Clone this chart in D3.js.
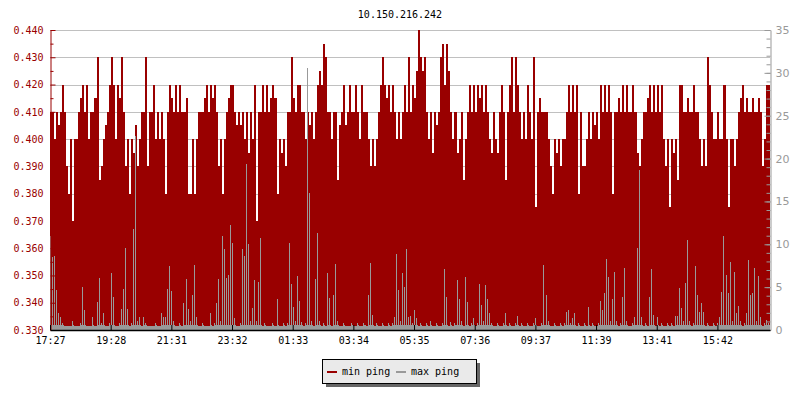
<!DOCTYPE html>
<html>
<head>
<meta charset="utf-8">
<script src="https://cdn.jsdelivr.net/npm/d3@7"></script>
<style>
body { margin: 0; background: #fff; }
</style>
</head>
<body>
<div id="root"></div>
<script>
var width = 800;
var height = 400;

var title = "10.150.216.242";

// x labels, one every 30 samples
var timeLabels = ["17:27","19:28","21:31","23:32","01:33","03:34","05:35","07:36","09:37","11:39","13:41","15:42"];
var labelEvery = 30;

var minTicks = [0.33,0.34,0.35,0.36,0.37,0.38,0.39,0.40,0.41,0.42,0.43,0.44];
var maxTicks = [0,5,10,15,20,25,30,35];

// min ping (ms), left axis
var minPing = [
0.41,0.41,0.4,0.41,0.405,0.41,0.42,0.41,0.39,0.38,
0.4,0.37,0.4,0.4,0.41,0.415,0.42,0.41,0.42,0.4,
0.41,0.41,0.415,0.43,0.385,0.39,0.4,0.405,0.41,0.42,
0.43,0.42,0.4,0.42,0.415,0.43,0.41,0.39,0.4,0.38,
0.4,0.395,0.405,0.39,0.4,0.41,0.41,0.43,0.39,0.41,
0.41,0.42,0.4,0.41,0.4,0.41,0.4,0.38,0.41,0.42,
0.415,0.41,0.42,0.41,0.42,0.41,0.41,0.415,0.38,0.38,
0.4,0.38,0.4,0.41,0.41,0.41,0.415,0.42,0.41,0.42,
0.415,0.42,0.41,0.39,0.4,0.38,0.4,0.41,0.415,0.42,
0.42,0.41,0.405,0.41,0.405,0.41,0.4,0.41,0.395,0.41,
0.4,0.42,0.37,0.41,0.41,0.42,0.41,0.42,0.41,0.415,
0.42,0.415,0.38,0.4,0.395,0.4,0.39,0.41,0.41,0.43,
0.415,0.41,0.42,0.42,0.41,0.41,0.4,0.41,0.405,0.41,
0.4,0.41,0.42,0.425,0.42,0.435,0.43,0.41,0.41,0.4,
0.41,0.41,0.385,0.405,0.41,0.42,0.405,0.41,0.42,0.41,
0.41,0.42,0.41,0.4,0.42,0.41,0.41,0.4,0.39,0.4,
0.39,0.4,0.41,0.42,0.43,0.42,0.415,0.42,0.41,0.42,
0.41,0.4,0.41,0.4,0.41,0.42,0.41,0.43,0.41,0.42,
0.415,0.425,0.44,0.43,0.425,0.43,0.41,0.4,0.41,0.395,
0.41,0.405,0.41,0.43,0.435,0.42,0.435,0.425,0.41,0.4,
0.41,0.395,0.4,0.41,0.385,0.4,0.41,0.42,0.41,0.42,
0.41,0.42,0.415,0.42,0.41,0.42,0.41,0.4,0.395,0.41,
0.4,0.395,0.41,0.42,0.41,0.385,0.41,0.42,0.43,0.41,
0.43,0.42,0.41,0.4,0.41,0.4,0.42,0.41,0.4,0.43,
0.375,0.41,0.415,0.41,0.41,0.41,0.4,0.39,0.38,0.4,
0.395,0.4,0.39,0.4,0.4,0.41,0.42,0.41,0.42,0.41,
0.42,0.38,0.41,0.39,0.39,0.4,0.41,0.4,0.41,0.405,
0.41,0.4,0.42,0.41,0.42,0.41,0.42,0.41,0.38,0.41,
0.41,0.415,0.41,0.42,0.41,0.42,0.41,0.41,0.42,0.41,
0.395,0.39,0.4,0.41,0.41,0.415,0.42,0.41,0.42,0.41,
0.42,0.41,0.42,0.4,0.39,0.4,0.375,0.4,0.395,0.4,
0.385,0.42,0.42,0.41,0.41,0.415,0.41,0.41,0.42,0.41,
0.41,0.4,0.39,0.4,0.39,0.43,0.42,0.41,0.4,0.4,
0.41,0.4,0.4,0.42,0.4,0.375,0.4,0.4,0.39,0.4,
0.41,0.415,0.42,0.41,0.415,0.41,0.41,0.415,0.41,0.41,
0.415,0.41,0.39,0.4,0.42,0.42
];

// max ping (ms), right axis
var maxPing = [
11,8.5,8.6,4.7,2,1.5,0.8,0.5,0.5,0.5,
0.5,1.1,0.5,0.5,0.5,0.8,5,2.3,0.5,0.5,
0.5,1.5,0.5,3.3,6.1,0.8,2,0.5,0.5,0.8,
6.6,3.8,0.5,0.5,0.8,2.5,4.8,9.6,2.5,0.5,
0.8,11.8,22.6,1,1.5,0.5,1.5,0.8,0.5,0.5,
0.5,0.5,0.8,0.5,0.5,2,1.5,1.5,4.8,7.5,
4.5,1,0.5,0.5,0.8,0.5,3.2,5.9,2.5,1,
4.1,7.6,1.5,0.5,0.5,0.8,0.5,0.5,0.5,2,
0.5,0.8,3.2,5.9,1,11,9.4,6.1,6.4,12.2,
10.2,1.4,0.5,0.5,0.8,9.4,8.6,19.4,10,1,
2.6,5.8,1,5.6,10.7,0.5,0.8,0.5,0.5,0.5,
0.8,0.5,3.6,0.5,0.5,0.8,0.5,0.8,10.2,5.4,
2.7,1,6.3,3.4,0.9,0.5,0.8,30.6,16,1,
0.5,5.9,11.3,1,0.5,0.8,0.5,6.6,3.7,0.5,
4.1,7.7,1,0.5,0.5,0.8,0.5,0.5,0.5,0.8,
0.5,0.5,0.8,0.5,0.5,0.8,0.5,4.1,7.8,1.7,
0.5,0.8,0.5,0.5,0.8,0.5,0.5,0.8,0.5,0.8,
1.5,8.9,4.7,1,6.6,5,9.4,1.5,1.6,0.8,
2.3,1.4,0.5,0.8,0.5,0.5,0.8,0.5,1,0.5,
0.5,0.8,0.5,0.5,0.8,7.1,3.9,0.5,0.9,0.5,
0.8,5.8,3.6,1,0.5,6.2,3.3,0.5,0.8,1.4,
0.5,0.8,5.4,2.9,1,5.3,3.6,2,0.8,0.5,
0.5,0.8,0.5,0.5,0.8,2,0.5,0.8,0.5,0.5,
0.8,1.6,0.5,0.8,0.5,0.5,0.8,0.5,0.5,0.8,
1.4,0.5,0.5,0.8,7.6,4.1,1,0.5,0.5,0.8,
0.5,0.5,0.8,0.5,0.8,2.1,2.3,0.8,1.4,2,
0.5,0.8,0.5,0.5,0.8,0.5,2.7,0.5,0.8,0.5,
0.5,0.8,3.4,2.3,4.3,8.3,6.2,1,3.6,6.8,
1,0.5,0.8,3.9,7.2,1,0.5,0.5,0.8,1.5,
9.6,18.7,1.5,0.5,0.8,0.5,3.9,7.1,1.7,0.5,
1.5,0.5,0.8,0.5,0.5,0.8,0.5,0.8,0.5,1.6,
1.6,4.9,2.6,1,5.5,10.5,1,0.5,0.8,7.5,
4.1,2.1,3.2,2.1,0.5,0.8,0.5,0.5,0.8,0.5,
0.8,1.5,4.4,11,6.4,4.3,7.9,1,6.8,2,
2.8,1,0.5,0.8,2,8.2,4.1,4.3,7.2,1,
6.3,1.5,0.5,0.8,1.2,0.8
];

var red = "#990000";
var grey = "#999999";
var mono = "'DejaVu Sans Mono', monospace";

var svg = d3.select("#root")
.append("svg")
.attr("width", width)
.attr("height", height)
.style("display", "block");

var n = minPing.length;

var x = d3.scaleLinear()
.domain([0, n])
.range([50, 770]);

var yMin = d3.scaleLinear()
.domain([0.33, 0.44])
.range([330, 30]);

var yMax = d3.scaleLinear()
.domain([0, 35])
.range([330, 30]);

//title
svg.append("text")
.attr("x", 400)
.attr("y", 18)
.attr("text-anchor", "middle")
.style("font-family", mono)
.style("font-size", "10px")
.text(title);

//grid lines at the left ticks
svg.append("g")
.selectAll("line")
.data(minTicks.slice(1))
.enter()
.append("line")
.attr("x1", 50)
.attr("x2", 770)
.attr("y1", function(d){ return Math.round(yMin(d)) + 0.5; })
.attr("y2", function(d){ return Math.round(yMin(d)) + 0.5; })
.attr("stroke", "#c0c0c0");

// one step per sample, repeat the last one to close the area
var idx = d3.range(n + 1);
function at(arr, i){ return arr[Math.min(i, n - 1)]; }

var minArea = d3.area()
.curve(d3.curveStepAfter)
.x(function(i){ return x(i); })
.y0(yMin(0.33))
.y1(function(i){ return yMin(at(minPing, i)); });

svg.append("path")
.datum(idx)
.attr("fill", red)
.attr("shape-rendering", "crispEdges")
.attr("d", minArea);

/*
max ping: the low part as a continuous step area,
each sample also gets a 1px spike up to its value
*/
var lowCap = 0.6;
var maxArea = d3.area()
.curve(d3.curveStepAfter)
.x(function(i){ return x(i); })
.y0(yMax(0))
.y1(function(i){ return yMax(Math.min(at(maxPing, i), lowCap)); });

svg.append("path")
.datum(idx)
.attr("fill", grey)
.attr("shape-rendering", "crispEdges")
.attr("d", maxArea);

svg.append("g")
.selectAll("rect")
.data(maxPing)
.enter()
.append("rect")
.attr("shape-rendering", "crispEdges")
.attr("x", function(d, i){ return Math.round(x(i)); })
.attr("width", 1)
.attr("y", function(d){ return yMax(d); })
.attr("height", function(d){ return yMax(0) - yMax(d); })
.attr("fill", grey);

/* left axis, ticks point inward */
var leftAxis = svg.append("g")
.attr("transform", "translate(50.5,0)")
.call(d3.axisLeft(yMin)
	.tickValues(minTicks)
	.tickFormat(d3.format(".3f"))
	.tickSizeInner(-5)
	.tickSizeOuter(0)
	.tickPadding(7));

svg.append("g")
.attr("transform", "translate(50.5,0)")
.call(d3.axisLeft(yMin)
	.tickValues(d3.range(0.335, 0.44, 0.01))
	.tickFormat("")
	.tickSizeInner(-3)
	.tickSizeOuter(0))
.call(function(g){ g.select(".domain").remove(); })
.selectAll("line").attr("stroke", red);

leftAxis.select(".domain").attr("stroke", red);
leftAxis.selectAll(".tick line").attr("stroke", red);
leftAxis.selectAll("text")
.attr("fill", red)
.style("font-family", mono)
.style("font-size", "10px");

/* right axis */
var rightAxis = svg.append("g")
.attr("transform", "translate(770.5,0)")
.call(d3.axisRight(yMax)
	.tickValues(maxTicks)
	.tickSizeInner(-6)
	.tickSizeOuter(0)
	.tickPadding(5));

svg.append("g")
.attr("transform", "translate(770.5,0)")
.call(d3.axisRight(yMax)
	.tickValues(d3.range(0, 36))
	.tickFormat("")
	.tickSizeInner(-4)
	.tickSizeOuter(0))
.call(function(g){ g.select(".domain").remove(); })
.selectAll("line").attr("stroke", grey);

rightAxis.select(".domain").attr("stroke", grey);
rightAxis.selectAll(".tick line").attr("stroke", grey);
rightAxis.selectAll("text")
.attr("fill", grey)
.style("font-family", "'DejaVu Sans', sans-serif")
.style("font-size", "11px");

/* time axis */
var bottomAxis = svg.append("g")
.attr("transform", "translate(0,330)")
.call(d3.axisBottom(x)
	.tickValues(timeLabels.map(function(t, i){ return i * labelEvery; }))
	.tickFormat(function(d, i){ return timeLabels[i]; })
	.tickSizeInner(-5)
	.tickSizeOuter(0)
	.tickPadding(7));

bottomAxis.select(".domain").attr("stroke", "#000").attr("stroke-width", 1.5);
bottomAxis.selectAll("text")
.attr("fill", "#000")
.style("font-family", mono)
.style("font-size", "10px");

//legend
var legend = svg.append("g");

legend.append("rect")
.attr("x", 326)
.attr("y", 363)
.attr("width", 154)
.attr("height", 24)
.attr("fill", "#666");

legend.append("rect")
.attr("x", 322.5)
.attr("y", 359.5)
.attr("width", 154)
.attr("height", 24)
.attr("fill", "#eaeaea")
.attr("stroke", "#000");

var items = [
	{name: "min ping", color: red, x: 327},
	{name: "max ping", color: grey, x: 396}
];

legend.selectAll("line.key")
.data(items)
.enter()
.append("line")
.attr("class", "key")
.attr("x1", function(d){ return d.x; })
.attr("x2", function(d){ return d.x + 10; })
.attr("y1", 372)
.attr("y2", 372)
.attr("stroke", function(d){ return d.color; })
.attr("stroke-width", 2);

legend.selectAll("text")
.data(items)
.enter()
.append("text")
.attr("x", function(d){ return d.x + 15; })
.attr("y", 375)
.style("font-family", mono)
.style("font-size", "10px")
.text(function(d){ return d.name; });
</script>
</body>
</html>
